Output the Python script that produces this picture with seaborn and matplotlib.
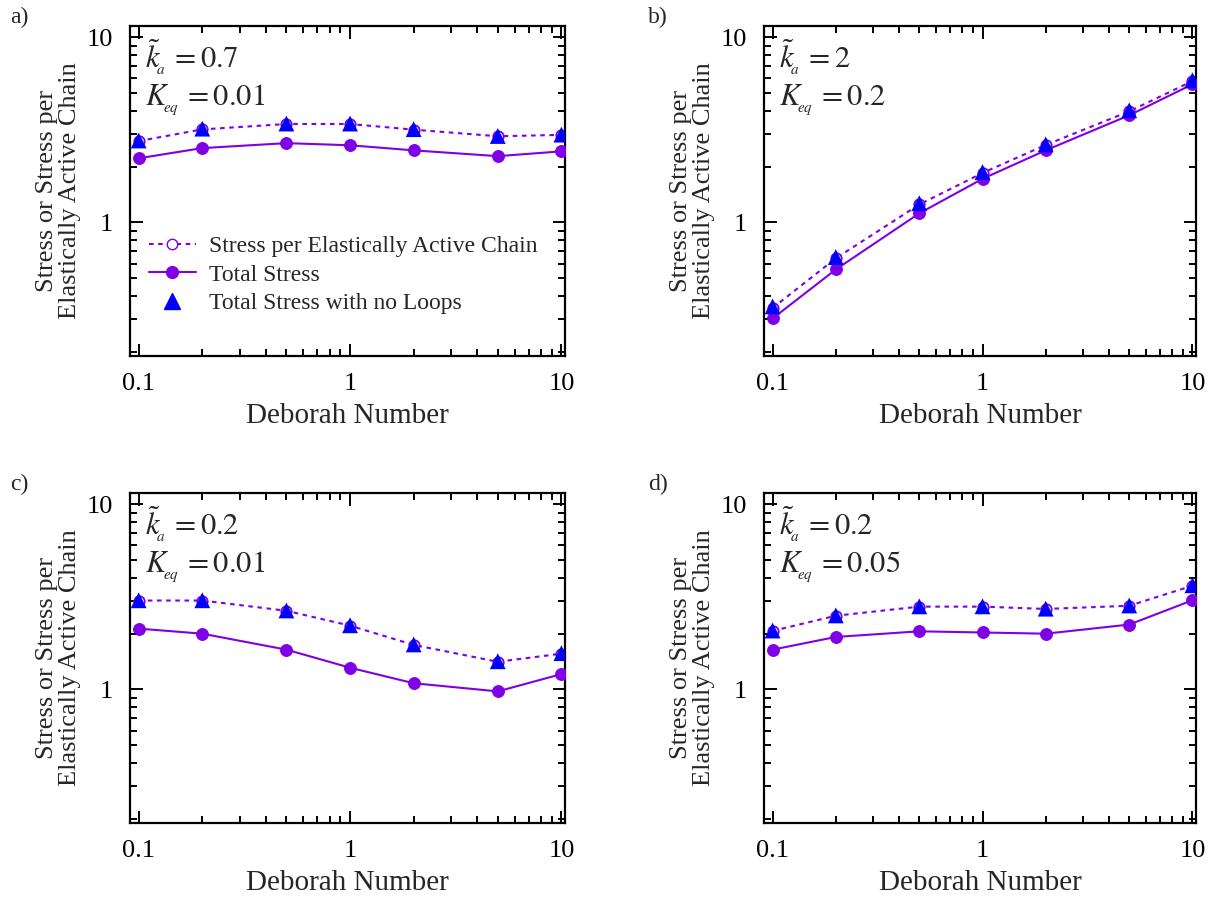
import numpy as np
import pandas as pd
import matplotlib
matplotlib.use("Agg")
import matplotlib.pyplot as plt
import matplotlib.ticker as mticker
from matplotlib.lines import Line2D
import seaborn as sns

# ---------------- data ----------------
deborah = [0.1, 0.2, 0.5, 1, 2, 5, 10]

# panel a  (k_a = 0.7, K_eq = 0.01)
a_per_chain = [2.75, 3.18, 3.40, 3.40, 3.17, 2.92, 2.97]
a_total = [2.22, 2.52, 2.68, 2.61, 2.45, 2.28, 2.42]
a_noloops = [2.77, 3.21, 3.42, 3.42, 3.19, 2.93, 2.98]

# panel b  (k_a = 2, K_eq = 0.2)
b_per_chain = [0.345, 0.64, 1.25, 1.85, 2.62, 3.98, 5.80]
b_total = [0.303, 0.557, 1.12, 1.72, 2.45, 3.79, 5.57]
b_noloops = [0.352, 0.65, 1.27, 1.87, 2.64, 4.03, 5.86]

# panel c  (k_a = 0.2, K_eq = 0.01)
c_per_chain = [3.02, 3.02, 2.66, 2.21, 1.74, 1.41, 1.56]
c_total = [2.13, 2.00, 1.64, 1.31, 1.08, 0.976, 1.21]
c_noloops = [3.03, 3.03, 2.67, 2.22, 1.75, 1.42, 1.57]

# panel d  (k_a = 0.2, K_eq = 0.05)
d_per_chain = [2.07, 2.50, 2.80, 2.80, 2.72, 2.83, 3.63]
d_total = [1.64, 1.92, 2.06, 2.03, 2.00, 2.24, 3.03]
d_noloops = [2.08, 2.51, 2.81, 2.81, 2.73, 2.84, 3.65]

panel_letters = ["a)", "b)", "c)", "d)"]
ka_values = ["0.7", "2", "0.2", "0.2"]
keq_values = ["0.01", "0.2", "0.01", "0.05"]
series_labels = ["Stress per Elastically Active Chain", "Total Stress",
                 "Total Stress with no Loops"]
x_label = "Deborah Number"
y_label = "Stress or Stress per\nElastically Active Chain"
x_ticks = [0.1, 1, 10]
y_ticks = [1, 10]

panels = [
    (a_per_chain, a_total, a_noloops),
    (b_per_chain, b_total, b_noloops),
    (c_per_chain, c_total, c_noloops),
    (d_per_chain, d_total, d_noloops),
]

# ---------------- style ----------------
sns.set_theme(style="ticks")
plt.rcParams["font.family"] = ["Liberation Serif", "DejaVu Serif"]
plt.rcParams["mathtext.fontset"] = "stix"
plt.rcParams["axes.linewidth"] = 1.6

purple = "#8000E6"
blue = "#0000FF"

fig = plt.figure(figsize=(12.08, 9.01), dpi=100)

W, H = 1208, 901
boxes = [  # left, top, right, bottom in pixels
    (130, 26, 565, 356),
    (764, 26, 1196, 356),
    (130, 493, 565, 823),
    (764, 493, 1196, 823),
]
letter_pos = [(10, 17), (648, 17), (10, 484), (648, 484)]

for i, (box, (per_chain, total, noloops)) in enumerate(zip(boxes, panels)):
    l, t, r, b = box
    ax = fig.add_axes([l / W, 1 - b / H, (r - l) / W, (b - t) / H])
    df = pd.DataFrame({"De": deborah, "per_chain": per_chain,
                       "total": total, "noloops": noloops})

    sns.lineplot(data=df, x="De", y="per_chain", ax=ax, color=purple,
                 linestyle=(0, (2.2, 2.2)), linewidth=1.5, marker="o",
                 markersize=7.5, markerfacecolor="white",
                 markeredgecolor=purple, markeredgewidth=1.3, zorder=2)
    sns.lineplot(data=df, x="De", y="total", ax=ax, color=purple,
                 linestyle="-", linewidth=1.5, marker="o", markersize=8.5,
                 markeredgecolor=purple, markerfacecolor=purple, zorder=3)
    sns.scatterplot(data=df, x="De", y="noloops", ax=ax, color=blue,
                    marker="^", s=130, edgecolor="none", zorder=4)

    ax.set_xscale("log")
    ax.set_yscale("log")
    ax.set_xlim(0.091, 10.4)
    ax.set_ylim(0.19, 11.5)

    ax.xaxis.set_major_locator(mticker.FixedLocator(x_ticks))
    ax.yaxis.set_major_locator(mticker.FixedLocator(y_ticks))
    ax.xaxis.set_major_formatter(mticker.FixedFormatter([str(v) for v in x_ticks]))
    ax.yaxis.set_major_formatter(mticker.FixedFormatter([str(v) for v in y_ticks]))
    ax.xaxis.set_minor_locator(mticker.LogLocator(base=10, subs=np.arange(2, 10)))
    ax.yaxis.set_minor_locator(mticker.LogLocator(base=10, subs=np.arange(2, 10)))
    ax.xaxis.set_minor_formatter(mticker.NullFormatter())
    ax.yaxis.set_minor_formatter(mticker.NullFormatter())
    ax.tick_params(which="both", direction="in", top=True, right=True,
                   colors="black", labelsize=19, width=1.4)
    ax.tick_params(which="major", length=9, pad=12)
    ax.tick_params(which="minor", length=5)
    for s in ax.spines.values():
        s.set_visible(True)
        s.set_color("black")

    ax.set_xlabel(x_label, fontsize=21, labelpad=6)
    ax.set_ylabel(y_label, fontsize=19, labelpad=4, linespacing=1.1)

    ax.text(0.035, 0.905, r"$\tilde{k}_{\!_a}\,=\mathrm{" + ka_values[i] + "}$",
            transform=ax.transAxes, fontsize=22, va="center", ha="left")
    ax.text(0.035, 0.775, r"$K_{\!_{eq}}\,=\mathrm{" + keq_values[i] + "}$",
            transform=ax.transAxes, fontsize=22, va="center", ha="left")

    fig.text(letter_pos[i][0] / W, 1 - letter_pos[i][1] / H, panel_letters[i],
             fontsize=17, ha="left", va="center")

    if i == 0:
        handles = [
            Line2D([], [], color=purple, linestyle=(0, (2.2, 2.2)), lw=1.5,
                   marker="o", markersize=7.5, markerfacecolor="white",
                   markeredgecolor=purple),
            Line2D([], [], color=purple, linestyle="-", lw=1.5, marker="o",
                   markersize=8.5, markerfacecolor=purple),
            Line2D([], [], color=blue, linestyle="", marker="^", markersize=11),
        ]
        ax.legend(handles, series_labels, loc="upper left",
                  bbox_to_anchor=(0.005, 0.415), frameon=False, fontsize=17,
                  handlelength=2.0, handletextpad=0.55, labelspacing=0.3,
                  borderaxespad=0.3)
    else:
        leg = ax.get_legend()
        if leg is not None:
            leg.remove()

fig.savefig("out.png", dpi=100)
